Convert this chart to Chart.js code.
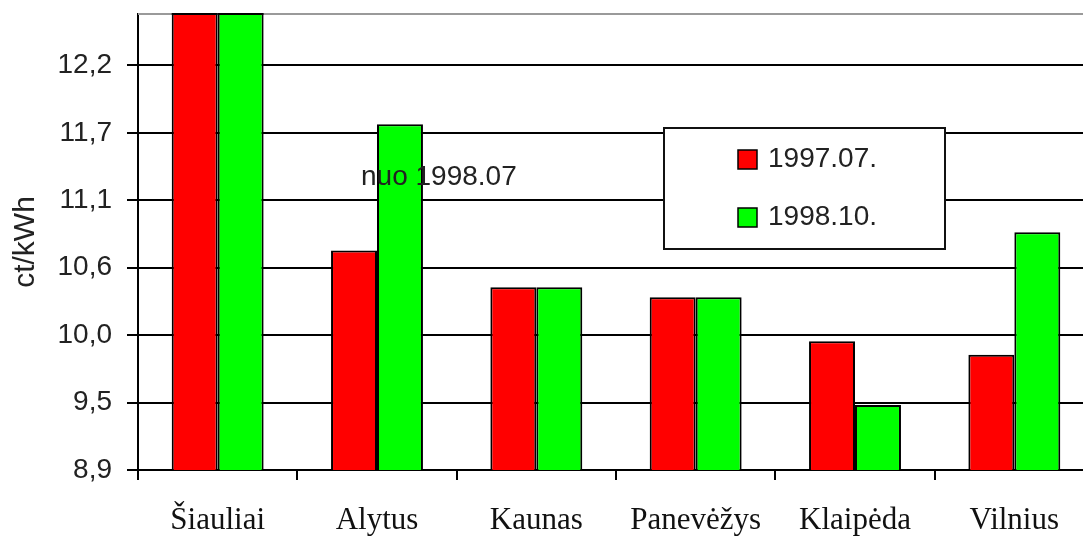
<!DOCTYPE html>
<html><head><meta charset="utf-8">
<script src="https://cdn.jsdelivr.net/npm/chart.js@4.4.1/dist/chart.umd.min.js"></script>
<style>html,body{margin:0;padding:0;background:#fff;overflow:hidden;width:1083px;height:536px}canvas{display:block}</style>
</head><body>
<canvas id="c" width="1100" height="536"></canvas>
<script>
const categories = ['Šiauliai', 'Alytus', 'Kaunas', 'Panevėžys', 'Klaipėda', 'Vilnius'];
const series1Label = '1997.07.';
const series1Values = [13.0, 10.69, 10.39, 10.31, 9.95, 9.84];
const series2Label = '1998.10.';
const series2Values = [13.0, 11.72, 10.39, 10.31, 9.43, 10.84];
const yTickValues = [8.9, 9.45, 10.0, 10.55, 11.1, 11.65, 12.2];
const yTickLabels = ['8,9', '9,5', '10,0', '10,6', '11,1', '11,7', '12,2'];
const yMin = 8.9;
const yMax = 12.62;
const yTitle = 'ct/kWh';
const noteText = 'nuo 1998.07';
const noteCategory = 1;
const noteValue = 11.29;

const SANS = '"Liberation Sans", Arial, sans-serif';
const SERIF = '"Liberation Serif", "Times New Roman", serif';

const extras = {
  id: 'extras',
  afterDatasetsDraw(chart) {
    const { ctx, chartArea: a, scales: { x, y } } = chart;
    ctx.save();
    ctx.strokeStyle = '#9a9a9a'; ctx.lineWidth = 2;
    ctx.beginPath(); ctx.moveTo(a.left, a.top); ctx.lineTo(a.right, a.top); ctx.stroke();
    ctx.strokeStyle = '#000';
    chart.data.datasets.forEach((ds, i) => {
      chart.getDatasetMeta(i).data.forEach((bar, j) => {
        if (ds.data[j] > yMax) {
          ctx.beginPath(); ctx.moveTo(bar.x - bar.width / 2, a.top); ctx.lineTo(bar.x + bar.width / 2, a.top); ctx.stroke();
        }
      });
    });
    ctx.fillStyle = '#222'; ctx.font = '28px ' + SANS; ctx.textAlign = 'left'; ctx.textBaseline = 'middle';
    ctx.fillText(noteText, x.getPixelForValue(noteCategory) - 16, y.getPixelForValue(noteValue));
    const lx = 664, ly = 128, lw = 281, lh = 121;
    ctx.fillStyle = '#fff'; ctx.fillRect(lx, ly, lw, lh);
    ctx.strokeStyle = '#111'; ctx.lineWidth = 2; ctx.strokeRect(lx, ly, lw, lh);
    chart.data.datasets.forEach((ds, i) => {
      const cy = 159.5 + i * 58;
      ctx.fillStyle = ds.backgroundColor; ctx.fillRect(738, cy - 9.5, 19, 19);
      ctx.strokeStyle = '#000'; ctx.lineWidth = 1.5; ctx.strokeRect(738, cy - 9.5, 19, 19);
      ctx.fillStyle = '#222'; ctx.fillText(ds.label, 768, cy);
    });
    ctx.restore();
  }
};

new Chart(document.getElementById('c'), {
  type: 'bar',
  data: {
    labels: categories,
    datasets: [
      { label: series1Label, data: series1Values, backgroundColor: '#ff0000', borderColor: '#000', borderWidth: 2 },
      { label: series2Label, data: series2Values, backgroundColor: '#00ff00', borderColor: '#000', borderWidth: 2 }
    ]
  },
  options: {
    responsive: false,
    animation: false,
    categoryPercentage: 0.577,
    barPercentage: 1,
    layout: { padding: { top: 14, right: 6, left: 0, bottom: 0 } },
    plugins: { legend: { display: false }, tooltip: { enabled: false } },
    scales: {
      x: {
        grid: { display: true, drawOnChartArea: false, drawTicks: true, tickLength: 10, color: '#000', lineWidth: 2, offset: true },
        border: { display: true, color: '#000', width: 2 },
        ticks: { font: { family: SERIF, size: 31 }, color: '#111', padding: 22, maxRotation: 0, autoSkip: false },
        afterFit(s) { s.height = 66; s.paddingLeft = 0; s.paddingRight = 0; }
      },
      y: {
        min: yMin, max: yMax,
        afterBuildTicks(s) { s.ticks = yTickValues.map(v => ({ value: v })); },
        ticks: { callback: (v, i) => yTickLabels[i], font: { family: SANS, size: 28 }, color: '#222', padding: 15 },
        grid: { color: '#000', lineWidth: 2, tickLength: 11, drawTicks: true },
        border: { color: '#000', width: 2 },
        title: { display: true, text: yTitle, font: { family: SANS, size: 30 }, color: '#222', padding: { top: 8, bottom: 0 } },
        afterFit(s) { s.width = 138; s.paddingTop = 0; s.paddingBottom = 0; }
      }
    }
  },
  plugins: [extras]
});
</script>
</body></html>
